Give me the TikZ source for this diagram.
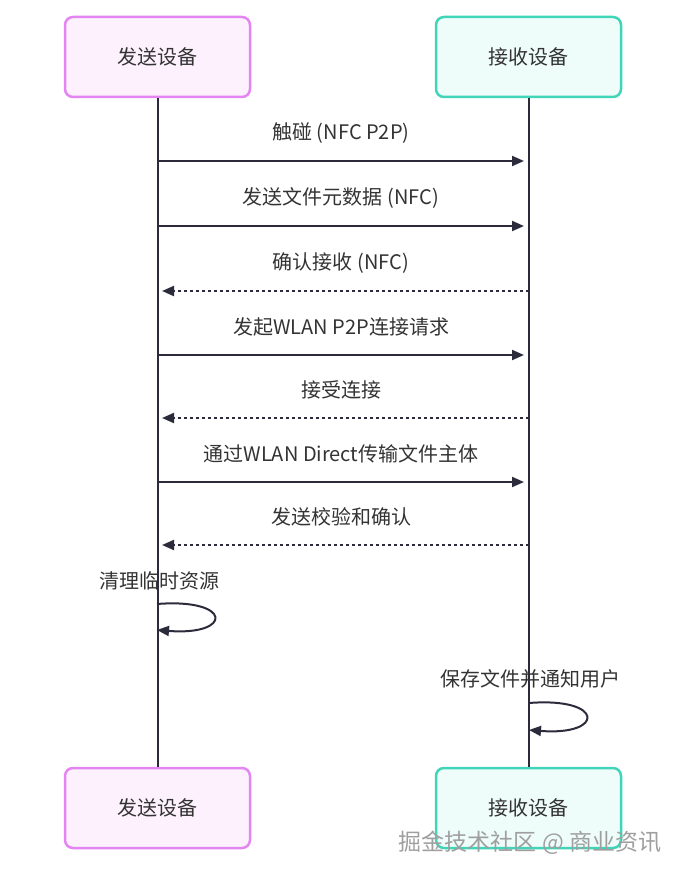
\documentclass[tikz,border=0pt]{standalone}
\usepackage{fontspec}
\setmainfont{Noto Sans CJK SC}
\usetikzlibrary{arrows.meta}
\definecolor{sendfill}{HTML}{FDF1FE}
\definecolor{senddraw}{HTML}{E386F2}
\definecolor{recvfill}{HTML}{EFFDFA}
\definecolor{recvdraw}{HTML}{40D5B8}
\definecolor{ink}{HTML}{2B2B3C}
\definecolor{txt}{HTML}{333333}
\tikzset{
  actor/.style={rounded corners=8pt, line width=2.5pt, minimum width=185pt,
    minimum height=80pt, text=txt, font=\fontsize{20}{24}\selectfont},
  sendbox/.style={actor, draw=senddraw, fill=sendfill},
  recvbox/.style={actor, draw=recvdraw, fill=recvfill},
  life/.style={draw=ink, line width=2pt},
  msg/.style={text=txt, font=\fontsize{20}{24}\selectfont},
  req/.style={draw=ink, line width=2pt, -{Triangle[length=12pt,width=10pt]}, shorten >=5pt},
  reply/.style={req, dash pattern=on 3pt off 3pt},
}
\begin{document}
\begin{tikzpicture}[x=1pt,y=-1pt]
  \useasboundingbox (0,0) rectangle (686,880);
  % participants
  \node[sendbox] (sendtop) at (157.5,57) {发送设备};
  \node[recvbox] (recvtop) at (528.5,57) {接收设备};
  \node[sendbox] (sendbot) at (157.5,808) {发送设备};
  \node[recvbox] (recvbot) at (528.5,808) {接收设备};
  \draw[life] (sendtop) -- (sendbot);
  \draw[life] (recvtop) -- (recvbot);
  % messages
  \foreach \n/\y/\from/\to/\kind/\txt in {
      1/161/s/r/req/触碰 (NFC P2P),
      2/226/s/r/req/发送文件元数据 (NFC),
      3/291/r/s/reply/确认接收 (NFC),
      4/355/s/r/req/发起WLAN P2P连接请求,
      5/418/r/s/reply/接受连接,
      6/482/s/r/req/通过WLAN Direct传输文件主体,
      7/545/r/s/reply/发送校验和确认} {
    \coordinate (s\n) at (157,\y);
    \coordinate (r\n) at (529,\y);
    \node[msg] (m\n) at (341,\y-28) {\txt};
    \draw[\kind] (\from\n) -- (\to\n);
  }
  % self messages
  \node[msg] (clean) at (159,581) {清理临时资源};
  \coordinate (cleanA) at (157,604);
  \coordinate (cleanB) at (157,630);
  \draw[req, shorten >=0pt] (cleanA) .. controls (233,598) and (233,636) .. (cleanB);
  \node[msg] (save) at (530,679) {保存文件并通知用户};
  \coordinate (saveA) at (529,703);
  \coordinate (saveB) at (529,730);
  \draw[req, shorten >=0pt] (saveA) .. controls (605,697) and (605,736) .. (saveB);
  % watermark
  \node[text=gray!75, font=\fontsize{23}{27}\selectfont] (mark) at (530,843) {掘金技术社区 @ 商业资讯};
\end{tikzpicture}
\end{document}
